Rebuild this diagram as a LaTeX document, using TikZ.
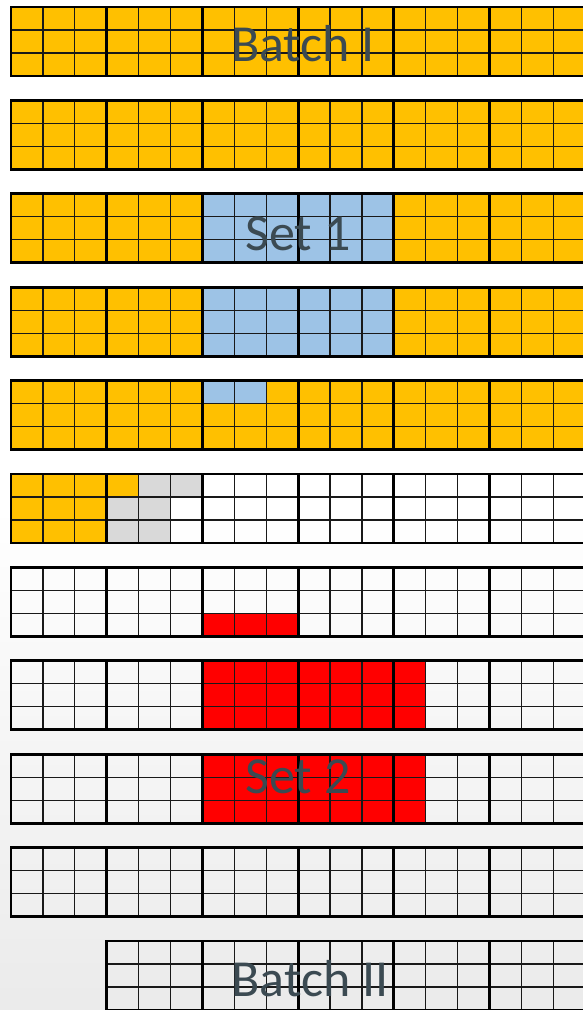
\documentclass[tikz,border=0pt]{standalone}
\usepackage{fontspec}
\setmainfont{Carlito}
\definecolor{gold}{HTML}{FFC000}
\definecolor{skyblue}{HTML}{9DC3E6}
\definecolor{lightgrey}{HTML}{D9D9D9}
\definecolor{brightred}{HTML}{FF0000}
\definecolor{slate}{HTML}{3B4A52}

\begin{document}
\begin{tikzpicture}[x=1pt, y=-1pt,
        row/.style={shift={(11,7+93.4*#1)}, x=31.9pt, y=-23pt},
        thinline/.style={line width=1.2pt, black!90},
        thickline/.style={line width=2.8pt, black},
        caption/.style={font=\fontsize{52}{52}\selectfont, text=slate, inner sep=0pt}]
        \useasboundingbox (0,0) rectangle (583,1010);
        \shade[top color=white, bottom color=black!8, middle color=white] (0,0) rectangle (583,1010);
        % filled cells
        \begin{scope}[row=0] \fill[gold] (0,0) rectangle (18,3); \end{scope}
        \begin{scope}[row=1] \fill[gold] (0,0) rectangle (18,3); \end{scope}
        \begin{scope}[row=2]
            \fill[gold] (0,0) rectangle (18,3);
            \fill[skyblue] (6,0) rectangle (12,3);
        \end{scope}
        \begin{scope}[row=3]
            \fill[gold] (0,0) rectangle (18,3);
            \fill[skyblue] (6,0) rectangle (12,3);
        \end{scope}
        \begin{scope}[row=4]
            \fill[gold] (0,0) rectangle (18,3);
            \fill[skyblue] (6,0) rectangle (8,1);
        \end{scope}
        \begin{scope}[row=5]
            \fill[gold] (0,0) rectangle (4,1);
            \fill[gold] (0,1) rectangle (3,3);
            \fill[lightgrey] (4,0) rectangle (6,1);
            \fill[lightgrey] (3,1) rectangle (5,3);
        \end{scope}
        \begin{scope}[row=6] \fill[brightred] (6,2) rectangle (9,3); \end{scope}
        \begin{scope}[row=7] \fill[brightred] (6,0) rectangle (13,3); \end{scope}
        \begin{scope}[row=8] \fill[brightred] (6,0) rectangle (13,3); \end{scope}
        % grid lines
        \foreach \k in {0,...,9} {
            \begin{scope}[row=\k]
                \foreach \c in {1,...,17} \draw[thinline] (\c,0) -- (\c,3);
                \foreach \r in {1,2} \draw[thinline] (0,\r) -- (18,\r);
                \foreach \c in {3,6,...,15} \draw[thickline] (\c,0) -- (\c,3);
                \draw[thickline] (0,0) rectangle (18,3);
            \end{scope}
        }
        \begin{scope}[row=10]
            \foreach \c in {4,...,17} \draw[thinline] (\c,0) -- (\c,3);
            \foreach \r in {1,2} \draw[thinline] (3,\r) -- (18,\r);
            \foreach \c in {6,9,...,15} \draw[thickline] (\c,0) -- (\c,3);
            \draw[thickline] (3,0) rectangle (18,3);
        \end{scope}
        % labels
        \node[caption] (batchI) at (303,44) {Batch I};
        \node[caption] (setI) at (298,234) {Set 1};
        \node[caption] (setII) at (298,777) {Set 2};
        \node[caption] (batchII) at (310,979) {Batch II};
    \end{tikzpicture}
\end{document}
